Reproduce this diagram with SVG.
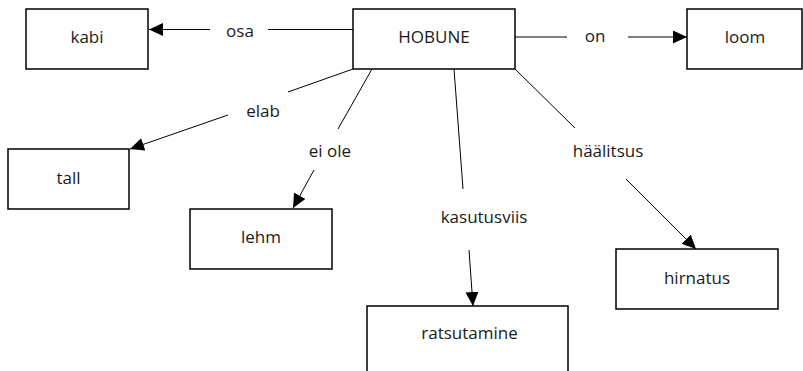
<svg xmlns="http://www.w3.org/2000/svg" width="803" height="371" viewBox="0 0 803 371">
<style>
.box{fill:#fff;stroke:#000;stroke-width:1.5}
.ln{stroke:#000;stroke-width:1;fill:none}
.arr{marker-end:url(#ah)}
text{font-family:"Open Sans","Noto Sans",sans-serif;font-size:17px;fill:#1a1a1a;text-anchor:middle}
</style>
<defs>
<marker id="ah" markerUnits="userSpaceOnUse" markerWidth="16" markerHeight="14" refX="14" refY="6.5" orient="auto">
<path d="M0,0 L14,6.5 L0,13 z" fill="#000"/>
</marker>
</defs>
<rect width="803" height="371" fill="#fff"/>
<g id="connectors">
<line class="ln" x1="353" y1="29.5" x2="268" y2="29.5"/>
<line class="ln arr" x1="210" y1="29.5" x2="149" y2="29.5"/>
<line class="ln" x1="515" y1="37" x2="567" y2="37"/>
<line class="ln arr" x1="628" y1="37" x2="687" y2="37"/>
<line class="ln" x1="353" y1="69" x2="288" y2="92"/>
<line class="ln arr" x1="228" y1="115" x2="130" y2="149"/>
<line class="ln" x1="372" y1="69" x2="338" y2="129"/>
<line class="ln arr" x1="314" y1="170" x2="293" y2="208"/>
<line class="ln" x1="454" y1="69" x2="463" y2="189"/>
<line class="ln arr" x1="469" y1="250" x2="473" y2="306"/>
<line class="ln" x1="515" y1="69" x2="575" y2="128"/>
<line class="ln arr" x1="626" y1="179" x2="696" y2="249"/>
<text x="240" y="37">osa</text>
<text x="595" y="42">on</text>
<text x="263" y="117">elab</text>
<text x="330" y="157">ei ole</text>
<text x="484" y="223">kasutusviis</text>
<text x="608" y="157">häälitsus</text>
</g>
<g id="kabi"><rect class="box" x="26" y="9" width="122" height="60"/><text x="87" y="43">kabi</text></g>
<g id="hobune"><rect class="box" x="353" y="9" width="162" height="60"/><text x="434" y="43">HOBUNE</text></g>
<g id="loom"><rect class="box" x="687" y="9" width="115" height="60"/><text x="745" y="43">loom</text></g>
<g id="tall"><rect class="box" x="8" y="149" width="121" height="60"/><text x="68.5" y="184">tall</text></g>
<g id="lehm"><rect class="box" x="190" y="209" width="142" height="60"/><text x="261" y="243">lehm</text></g>
<g id="ratsutamine"><rect class="box" x="367" y="306" width="201" height="80"/><text x="469.5" y="339">ratsutamine</text></g>
<g id="hirnatus"><rect class="box" x="616" y="249" width="162" height="60"/><text x="697" y="284">hirnatus</text></g>
</svg>
